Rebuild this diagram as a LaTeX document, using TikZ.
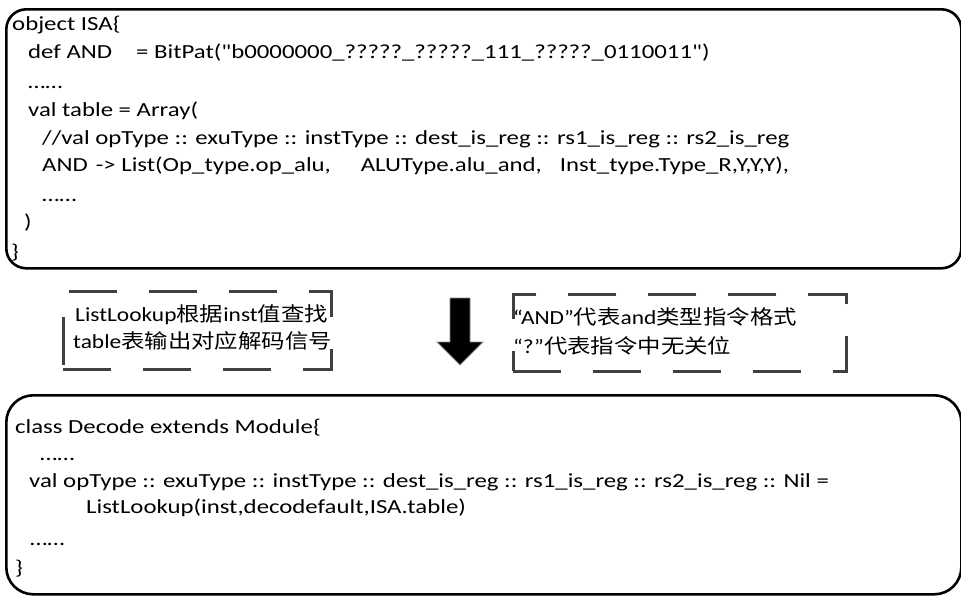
\documentclass[tikz,border=0pt]{standalone}
\usepackage{fontspec}
\newfontfamily\codefont[FakeStretch=1.24]{Carlito}
\newfontfamily\notefont[FakeStretch=1.17]{Carlito}
\newfontfamily\cjk[FakeStretch=1.17]{Noto Sans CJK SC}
\definecolor{dashgray}{HTML}{404040}
\tikzset{
  codebox/.style={draw=black, line width=2.6pt, rounded corners=#1, anchor=north west, inner sep=0pt},
  note/.style={draw=dashgray, line width=2.6pt, dash pattern=on 48pt off 32pt, anchor=north west, inner sep=0pt},
  code/.style={anchor=base west, inner sep=0pt, font=\codefont\fontsize{20pt}{24pt}\selectfont},
  notetext/.style={anchor=base west, inner sep=0pt, font=\notefont\fontsize{20pt}{24pt}\selectfont},
}
\begin{document}
\begin{tikzpicture}[x=1pt,y=-1pt]
\useasboundingbox (0,0) rectangle (961,598);

% object ISA
\node[codebox=20pt, minimum width=955pt, minimum height=259pt] (isabox) at (5,8) {};
\node[code] (i1) at (12,30) {object ISA\{};
\node[code] (i2) at (28,58) {def AND\hspace{24pt}= BitPat("b0000000\_?????\_?????\_111\_?????\_0110011")};
\node[code] (i3) at (28,88) {……};
\node[code] (i4) at (28,116) {val table = Array(};
\node[code] (i5) at (42,144) {//val opType :: exuType :: instType :: dest\_is\_reg :: rs1\_is\_reg :: rs2\_is\_reg};
\node[code] (i6) at (42,171) {AND\hspace{8pt}-> List(Op\_type.op\_alu,\hspace{30pt}ALUType.alu\_and,\hspace{18pt}Inst\_type.Type\_R,Y,Y,Y),};
\node[code] (i7) at (42,201) {……};
\node[code] (i8) at (24,228) {)};
\node[code] (i9) at (11,258) {\}};

% notes between the boxes
\node[note, minimum width=268pt, minimum height=78pt] (noteL) at (62,290) {};
\node[notetext] (l1) at (75,321) {ListLookup{\cjk 根据}inst{\cjk 值查找}};
\node[notetext] (l2) at (73,348) {table{\cjk 表输出对应解码信号}};

\node[note, minimum width=333pt, minimum height=77pt] (noteR) at (512,293) {};
\node[notetext] (r1) at (513,324) {“AND”{\cjk 代表}and{\cjk 类型指令格式}};
\node[notetext] (r2) at (513,353) {“?”{\cjk 代表指令中无关位}};

% block arrow
\filldraw[fill=black, draw=black!45, line width=0.8pt]
  (450,298) -- (470,298) -- (470,342) -- (483,342) -- (460,365) -- (437,342) -- (450,342) -- cycle;

% class Decode
\node[codebox=27pt, minimum width=955pt, minimum height=199pt] (decbox) at (5,394) {};
\node[code] (d1) at (15,433) {class Decode extends Module\{};
\node[code] (d2) at (40,460) {……};
\node[code] (d3) at (29,487) {val opType :: exuType :: instType :: dest\_is\_reg :: rs1\_is\_reg :: rs2\_is\_reg :: Nil =};
\node[code] (d4) at (86,513) {ListLookup(inst,decodefault,ISA.table)};
\node[code] (d5) at (30,545) {……};
\node[code] (d6) at (15,574) {\}};
\end{tikzpicture}
\end{document}
